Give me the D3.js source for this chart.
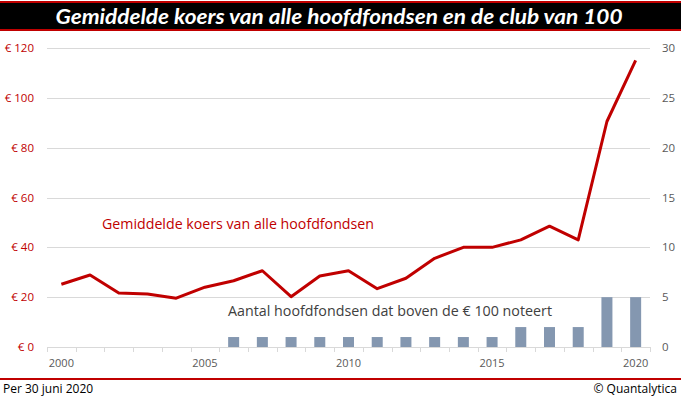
<!DOCTYPE html>
<html>
<head>
<meta charset="utf-8">
<script src="https://cdn.jsdelivr.net/npm/d3@7"></script>
<style>
  html, body { margin: 0; padding: 0; background: #fff; }
  svg { display: block; }
</style>
</head>
<body>
<div id="chart"></div>
<script>
// data
const years = d3.range(2000, 2021);
const avgPrice = [25.2, 28.9, 21.7, 21.3, 19.6, 24.0, 26.6, 30.6, 20.2, 28.5, 30.6,
                  23.4, 27.6, 35.6, 40.0, 40.0, 43.0, 48.5, 43.0, 90.5, 115.0];
const above100 = [0, 0, 0, 0, 0, 0, 1, 1, 1, 1, 1, 1, 1, 1, 1, 1, 2, 2, 2, 5, 5];
const leftTicks = [0, 20, 40, 60, 80, 100, 120];
const rightTicks = [0, 5, 10, 15, 20, 25, 30];
const yearLabels = [2000, 2005, 2010, 2015, 2020];

const W = 681, H = 399;
const red = '#c00000';
const font = "'Open Sans', sans-serif";

const svg = d3.select('#chart').append('svg')
  .attr('width', W).attr('height', H);

// title bar
svg.append('rect').attr('x', 0).attr('y', 1).attr('width', W).attr('height', 2).attr('fill', red);
svg.append('rect').attr('x', 0).attr('y', 3).attr('width', W).attr('height', 26).attr('fill', '#000');
svg.append('rect').attr('x', 0).attr('y', 29).attr('width', W).attr('height', 2).attr('fill', red);
svg.append('text')
  .attr('x', 339).attr('y', 23.5)
  .attr('text-anchor', 'middle')
  .attr('fill', '#fff')
  .style('font-family', "Lato, sans-serif")
  .style('font-weight', 'bold')
  .style('font-style', 'italic')
  .style('font-size', '20px')
  .attr('textLength', 567)
  .attr('lengthAdjust', 'spacingAndGlyphs')
  .text('Gemiddelde koers van alle hoofdfondsen en de club van 100');

// plot scales
const x = d3.scaleBand().domain(years).range([47, 650]);
const yL = d3.scaleLinear().domain([0, 120]).range([347, 48]);
const yR = d3.scaleLinear().domain([0, 30]).range([347, 48]);

// gridlines
svg.append('g')
  .selectAll('line')
  .data(leftTicks.slice(1))
  .join('line')
  .attr('x1', 47).attr('x2', 650)
  .attr('y1', d => Math.round(yL(d)) + 0.5).attr('y2', d => Math.round(yL(d)) + 0.5)
  .attr('stroke', '#d9d9d9');

// left axis labels
svg.append('g')
  .selectAll('text')
  .data(leftTicks)
  .join('text')
  .attr('x', 34).attr('y', d => yL(d))
  .attr('dy', '0.35em')
  .attr('text-anchor', 'end')
  .attr('fill', red)
  .style('font-family', font)
  .style('font-size', '11.5px')
  .text(d => '€ ' + d);

// right axis labels
svg.append('g')
  .selectAll('text')
  .data(rightTicks)
  .join('text')
  .attr('x', 662).attr('y', d => yR(d))
  .attr('dy', '0.35em')
  .attr('fill', '#595959')
  .style('font-family', font)
  .style('font-size', '11.5px')
  .text(d => d);

// bars
svg.append('g')
  .selectAll('rect')
  .data(years.map((yr, i) => ({ yr, v: above100[i] })).filter(d => d.v > 0))
  .join('rect')
  .attr('x', d => x(d.yr) + (x.bandwidth() - 11) / 2)
  .attr('width', 11)
  .attr('y', d => yR(d.v))
  .attr('height', d => yR(0) - yR(d.v))
  .attr('fill', '#8497b0');

// x axis
const xAxis = svg.append('g');
xAxis.append('line')
  .attr('x1', 47).attr('x2', 650).attr('y1', 347.5).attr('y2', 347.5)
  .attr('stroke', '#d9d9d9');
xAxis.selectAll('line.tick')
  .data(d3.range(years.length + 1))
  .join('line')
  .attr('class', 'tick')
  .attr('x1', i => Math.round(i < years.length ? x(years[i]) : x.range()[1]) + 0.5)
  .attr('x2', i => Math.round(i < years.length ? x(years[i]) : x.range()[1]) + 0.5)
  .attr('y1', 347).attr('y2', 352)
  .attr('stroke', '#d9d9d9');
xAxis.selectAll('text')
  .data(yearLabels)
  .join('text')
  .attr('x', d => x(d) + x.bandwidth() / 2)
  .attr('y', 367)
  .attr('text-anchor', 'middle')
  .attr('fill', '#595959')
  .style('font-family', font)
  .style('font-size', '11px')
  .text(d => d);

// line
const line = d3.line()
  .x((d, i) => x(years[i]) + x.bandwidth() / 2)
  .y(d => yL(d));
svg.append('path')
  .datum(avgPrice)
  .attr('d', line)
  .attr('fill', 'none')
  .attr('stroke', red)
  .attr('stroke-width', 3)
  .attr('stroke-linejoin', 'round');

// annotations
svg.append('text')
  .attr('x', 102).attr('y', 229)
  .attr('fill', red)
  .style('font-family', font)
  .style('font-size', '14px')
  .attr('textLength', 272)
  .attr('lengthAdjust', 'spacingAndGlyphs')
  .text('Gemiddelde koers van alle hoofdfondsen');
svg.append('text')
  .attr('x', 228).attr('y', 316)
  .attr('fill', '#404040')
  .style('font-family', font)
  .style('font-size', '14.5px')
  .attr('textLength', 324)
  .attr('lengthAdjust', 'spacingAndGlyphs')
  .text('Aantal hoofdfondsen dat boven de € 100 noteert');

// footer
svg.append('rect').attr('x', 0).attr('y', 378).attr('width', W).attr('height', 2).attr('fill', red);
svg.append('text')
  .attr('x', 3).attr('y', 393)
  .attr('fill', '#000')
  .style('font-family', font)
  .style('font-size', '12px')
  .text('Per 30 juni 2020');
svg.append('text')
  .attr('x', 677).attr('y', 393)
  .attr('text-anchor', 'end')
  .attr('fill', '#000')
  .style('font-family', font)
  .style('font-size', '12px')
  .text('© Quantalytica');
</script>
</body>
</html>
